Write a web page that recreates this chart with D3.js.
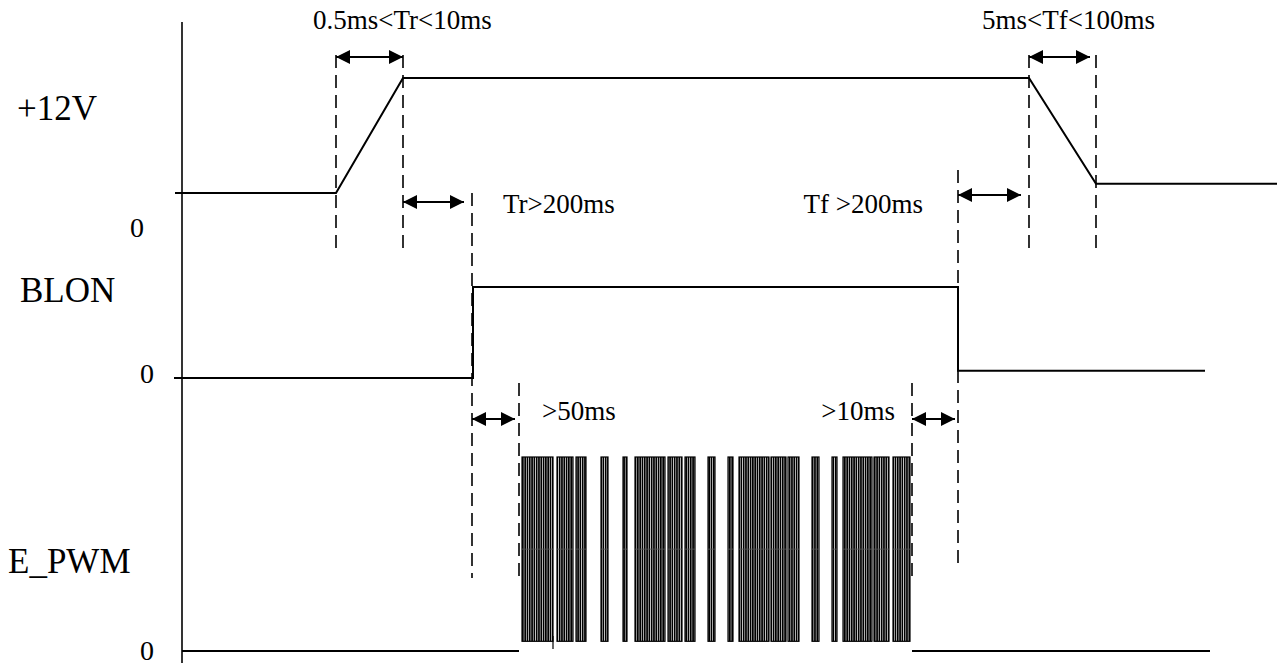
<!DOCTYPE html>
<html>
<head>
<meta charset="utf-8">
<script src="https://cdn.jsdelivr.net/npm/d3@7/dist/d3.min.js"></script>
<style>
  body { margin: 0; background: #fff; }
  svg { display: block; }
  text { font-family: "Liberation Serif", "Times New Roman", serif; fill: #000; }
</style>
</head>
<body>
<svg id="chart" width="1277" height="663"></svg>
<script>
// signal names and their zero labels
const signalNames = ["+12V", "BLON", "E_PWM"];
const zeroLabels = ["0", "0", "0"];

// +12V supply, [time, level] (level 1 = high)
const supplyPoints = [[-7, 0], [154, 0], [221, 1], [847, 1], [914, 0.08], [1095, 0.08]];

// BLON backlight enable
const blonPoints = [[-8, 0], [291, 0], [291, 1], [776, 1], [776, 0.08], [1023, 0.08]];

// E_PWM idle parts and burst windows [start, end]
const pwmIdleLeft = [[0, 0], [337, 0]];
const pwmIdleRight = [[730, 0], [1028, 0]];
const pwmBursts = [
  [340, 371], [375, 391], [394, 404], [419, 426], [441, 445],
  [453, 483], [486, 500], [503, 513], [526, 533], [546, 551],
  [557, 587], [589, 604], [606, 617], [630, 637], [650, 655],
  [661, 690], [692, 707], [711, 728]
];
const pwmBurstLevels = [0.05, 1];

// dashed timing markers (times)
const markerTimes = [154, 221, 290, 337, 730, 776, 847, 914];

// timing arrows [from, to] and their labels
const timingArrows = [[154, 221], [221, 282], [776, 839], [847, 908], [290, 333], [730, 773]];
const timingLabels = ["0.5ms<Tr<10ms", "Tr>200ms", "Tf >200ms", "5ms<Tf<100ms", ">50ms", ">10ms"];

const svg = d3.select("#chart");

const x = d3.scaleLinear().domain([0, 1095]).range([182, 1277]);
const ySupply = d3.scaleLinear().domain([0, 1]).range([193, 78]);
const yBlon = d3.scaleLinear().domain([0, 1]).range([378, 287]);
const yPwm = d3.scaleLinear().domain([0, 1]).range([651, 457]);

// stripes for the pwm bursts
const defs = svg.append("defs");
defs.append("pattern")
  .attr("id", "stripes")
  .attr("patternUnits", "userSpaceOnUse")
  .attr("width", 2.3)
  .attr("height", 10)
  .append("rect")
  .attr("width", 1.7)
  .attr("height", 10)
  .attr("fill", "#000");

const head = defs.append("marker")
  .attr("id", "head")
  .attr("viewBox", "0 0 14 14")
  .attr("refX", 14)
  .attr("refY", 7)
  .attr("markerWidth", 14)
  .attr("markerHeight", 14)
  .attr("markerUnits", "userSpaceOnUse")
  .attr("orient", "auto-start-reverse");
head.append("path").attr("d", "M0,0L14,7L0,14Z").attr("fill", "#000");

// vertical axis
svg.append("line")
  .attr("x1", x(0)).attr("x2", x(0))
  .attr("y1", 22).attr("y2", 663)
  .attr("stroke", "#000").attr("stroke-width", 1.6);

// labels on the left
const nameLayout = [[17, 120], [20, 302], [8, 573]];
svg.selectAll("text.name")
  .data(signalNames)
  .enter()
  .append("text")
  .attr("class", "name")
  .attr("x", (d, i) => nameLayout[i][0])
  .attr("y", (d, i) => nameLayout[i][1])
  .attr("font-size", 35)
  .text((d) => d);

const zeroLayout = [[130, 237], [140, 383], [140, 660]];
svg.selectAll("text.zero")
  .data(zeroLabels)
  .enter()
  .append("text")
  .attr("class", "zero")
  .attr("x", (d, i) => zeroLayout[i][0])
  .attr("y", (d, i) => zeroLayout[i][1])
  .attr("font-size", 28)
  .text((d) => d);

// dashed markers
const dashSpan = [[55, 248], [55, 248], [193, 578], [383, 578], [383, 580], [170, 570], [55, 248], [55, 248]];
svg.selectAll("line.marker")
  .data(markerTimes)
  .enter()
  .append("line")
  .attr("class", "marker")
  .attr("x1", (d) => x(d)).attr("x2", (d) => x(d))
  .attr("y1", (d, i) => dashSpan[i][0])
  .attr("y2", (d, i) => dashSpan[i][1])
  .attr("stroke", "#000")
  .attr("stroke-width", 1.6)
  .attr("stroke-dasharray", "13,7");

// signal traces
const drawTrace = (points, yScale) => {
  const line = d3.line().x((d) => x(d[0])).y((d) => yScale(d[1]));
  svg.append("path")
    .datum(points)
    .attr("d", line)
    .attr("fill", "none")
    .attr("stroke", "#000")
    .attr("stroke-width", 2);
};
drawTrace(supplyPoints, ySupply);
drawTrace(blonPoints, yBlon);
drawTrace(pwmIdleLeft, yPwm);
drawTrace(pwmIdleRight, yPwm);

// pwm bursts
svg.selectAll("rect.burst")
  .data(pwmBursts)
  .enter()
  .append("rect")
  .attr("class", "burst")
  .attr("x", (d) => x(d[0]))
  .attr("width", (d) => x(d[1]) - x(d[0]))
  .attr("y", yPwm(pwmBurstLevels[1]))
  .attr("height", yPwm(pwmBurstLevels[0]) - yPwm(pwmBurstLevels[1]))
  .attr("fill", "url(#stripes)")
  .attr("stroke", "#000")
  .attr("stroke-width", 1.2);

// faint midline inside the bursts
svg.selectAll("line.mid")
  .data(pwmBursts)
  .enter()
  .append("line")
  .attr("class", "mid")
  .attr("x1", (d) => x(d[0]))
  .attr("x2", (d) => x(d[1]))
  .attr("y1", yPwm(0.525))
  .attr("y2", yPwm(0.525))
  .attr("stroke", "#555")
  .attr("stroke-width", 0.8);

// small glitch under the first burst
svg.append("line")
  .attr("x1", x(371)).attr("x2", x(371))
  .attr("y1", 636).attr("y2", 649)
  .attr("stroke", "#000").attr("stroke-width", 1.2);

// timing arrows
const arrowY = [57, 202, 195, 57, 419, 419];
svg.selectAll("line.arrow")
  .data(timingArrows)
  .enter()
  .append("line")
  .attr("class", "arrow")
  .attr("x1", (d) => x(d[0]))
  .attr("x2", (d) => x(d[1]))
  .attr("y1", (d, i) => arrowY[i])
  .attr("y2", (d, i) => arrowY[i])
  .attr("stroke", "#000")
  .attr("stroke-width", 2)
  .attr("marker-start", "url(#head)")
  .attr("marker-end", "url(#head)");

const labelLayout = [
  { x: 313, y: 29, anchor: "start" },
  { x: 503, y: 213, anchor: "start" },
  { x: 923, y: 213, anchor: "end" },
  { x: 982, y: 29, anchor: "start" },
  { x: 542, y: 420, anchor: "start" },
  { x: 895, y: 420, anchor: "end" },
];
svg.selectAll("text.timing")
  .data(timingLabels)
  .enter()
  .append("text")
  .attr("class", "timing")
  .attr("x", (d, i) => labelLayout[i].x)
  .attr("y", (d, i) => labelLayout[i].y)
  .attr("text-anchor", (d, i) => labelLayout[i].anchor)
  .attr("font-size", 27)
  .text((d) => d);
</script>
</body>
</html>
